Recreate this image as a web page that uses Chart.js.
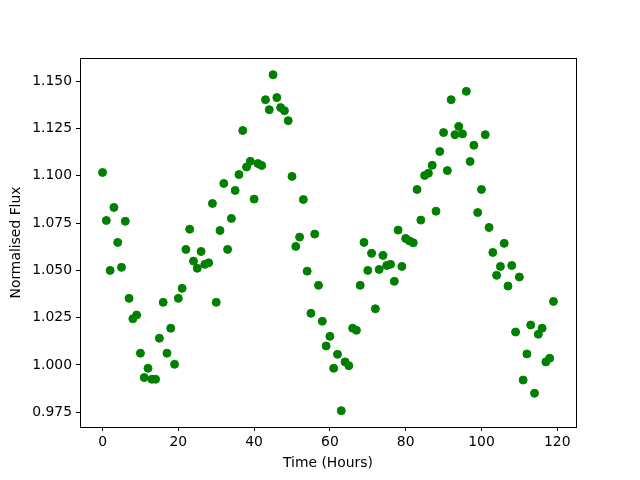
<!DOCTYPE html>
<html>
<head>
<meta charset="utf-8">
<script src="https://cdn.jsdelivr.net/npm/chart.js@4"></script>
<style>
    body { margin: 0; background: #ffffff; }
</style>
</head>
<body>
<canvas id="grafica" width="640" height="480"></canvas>
<script>
const horas = [
    0, 1, 2, 3, 4, 5, 6, 7, 8, 9, 10, 11, 12, 13, 14, 15, 16, 17, 18, 19,
    20, 21, 22, 23, 24, 25, 26, 27, 28, 29, 30, 31, 32, 33, 34, 35, 36, 37, 38, 39,
    40, 41, 42, 43, 44, 45, 46, 47, 48, 49, 50, 51, 52, 53, 54, 55, 56, 57, 58, 59,
    60, 61, 62, 63, 64, 65, 66, 67, 68, 69, 70, 71, 72, 73, 74, 75, 76, 77, 78, 79,
    80, 81, 82, 83, 84, 85, 86, 87, 88, 89, 90, 91, 92, 93, 94, 95, 96, 97, 98, 99,
    100, 101, 102, 103, 104, 105, 106, 107, 108, 109, 110, 111, 112, 113, 114, 115, 116, 117, 118, 119
];

const flujo = [
    1.1018, 1.0764, 1.0500, 1.0833, 1.0648, 1.0516, 1.0760, 1.0352, 1.0244, 1.0264,
    1.0062, 0.9933, 0.9982, 0.9924, 0.9924, 1.0141, 1.0331, 1.0062, 1.0194, 1.0003,
    1.0352, 1.0405, 1.0611, 1.0718, 1.0549, 1.0511, 1.0600, 1.0532, 1.0540, 1.0854,
    1.0331, 1.0711, 1.0960, 1.0611, 1.0775, 1.0923, 1.1007, 1.1240, 1.1047, 1.1077,
    1.0877, 1.1065, 1.1055, 1.1403, 1.1350, 1.1535, 1.1414, 1.1361, 1.1345, 1.1292,
    1.0997, 1.0627, 1.0676, 1.0875, 1.0496, 1.0273, 1.0692, 1.0421, 1.0231, 1.0100,
    1.0151, 0.9982, 1.0056, 0.9758, 1.0016, 0.9996, 1.0194, 1.0183, 1.0421, 1.0648,
    1.0500, 1.0590, 1.0297, 1.0505, 1.0579, 1.0526, 1.0532, 1.0442, 1.0713, 1.0521,
    1.0669, 1.0656, 1.0646, 1.0928, 1.0766, 1.1002, 1.1014, 1.1056, 1.0813, 1.1129,
    1.1229, 1.1028, 1.1403, 1.1218, 1.1261, 1.1222, 1.1447, 1.1076, 1.1162, 1.0806,
    1.0928, 1.1218, 1.0727, 1.0595, 1.0474, 1.0521, 1.0643, 1.0417, 1.0526, 1.0174,
    1.0465, 0.9920, 1.0058, 1.0211, 0.9850, 1.0162, 1.0194, 1.0016, 1.0035, 1.0336
];

const ticksX = [0, 20, 40, 60, 80, 100, 120];
const ticksY = [0.975, 1.000, 1.025, 1.050, 1.075, 1.100, 1.125, 1.150];

const fuente = { family: 'DejaVu Sans', size: 13.9 };

// marco completo alrededor del area del grafico (como matplotlib)
const marco = {
    id: 'marco',
    afterDraw(chart) {
        const { ctx, chartArea: a } = chart;
        ctx.save();
        ctx.strokeStyle = '#000000';
        ctx.lineWidth = 1;
        ctx.strokeRect(a.left + 0.5, a.top + 0.5, a.right - a.left, a.bottom - a.top);
        ctx.restore();
    }
};

const $grafica = document.querySelector("#grafica");
new Chart($grafica, {
    type: 'scatter',
    data: {
        datasets: [{
            label: 'Flux',
            data: horas.map((h, i) => ({ x: h, y: flujo[i] })),
            backgroundColor: '#008000',
            borderColor: '#008000',
            borderWidth: 1,
            pointRadius: 4
        }]
    },
    options: {
        responsive: false,
        animation: false,
        layout: { padding: { top: 58, right: 64, bottom: 0, left: 0 } },
        plugins: {
            legend: { display: false },
            tooltip: { enabled: false }
        },
        scales: {
            x: {
                type: 'linear',
                min: -5.95,
                max: 124.95,
                afterBuildTicks: scale => { scale.ticks = ticksX.map(v => ({ value: v })); },
                afterFit: scale => { scale.height = 53; },
                grid: {
                    drawOnChartArea: false,
                    drawTicks: true,
                    tickLength: 4,
                    color: '#000000'
                },
                border: { display: true, color: '#000000' },
                ticks: {
                    color: '#000000',
                    font: fuente,
                    padding: 3,
                    maxRotation: 0,
                    callback: v => String(v)
                },
                title: {
                    display: true,
                    text: 'Time (Hours)',
                    color: '#000000',
                    font: fuente,
                    padding: { top: 0, bottom: 8 }
                }
            },
            y: {
                type: 'linear',
                min: 0.96715,
                max: 1.16235,
                afterBuildTicks: scale => { scale.ticks = ticksY.map(v => ({ value: v })); },
                afterFit: scale => { scale.width = 80; },
                grid: {
                    drawOnChartArea: false,
                    drawTicks: true,
                    tickLength: 4,
                    color: '#000000'
                },
                border: { display: true, color: '#000000' },
                ticks: {
                    color: '#000000',
                    font: fuente,
                    padding: 4,
                    callback: v => v.toFixed(3)
                },
                title: {
                    display: true,
                    text: 'Normalised Flux',
                    color: '#000000',
                    font: fuente,
                    padding: { top: 8, bottom: 0 }
                }
            }
        }
    },
    plugins: [marco]
});
</script>
</body>
</html>
